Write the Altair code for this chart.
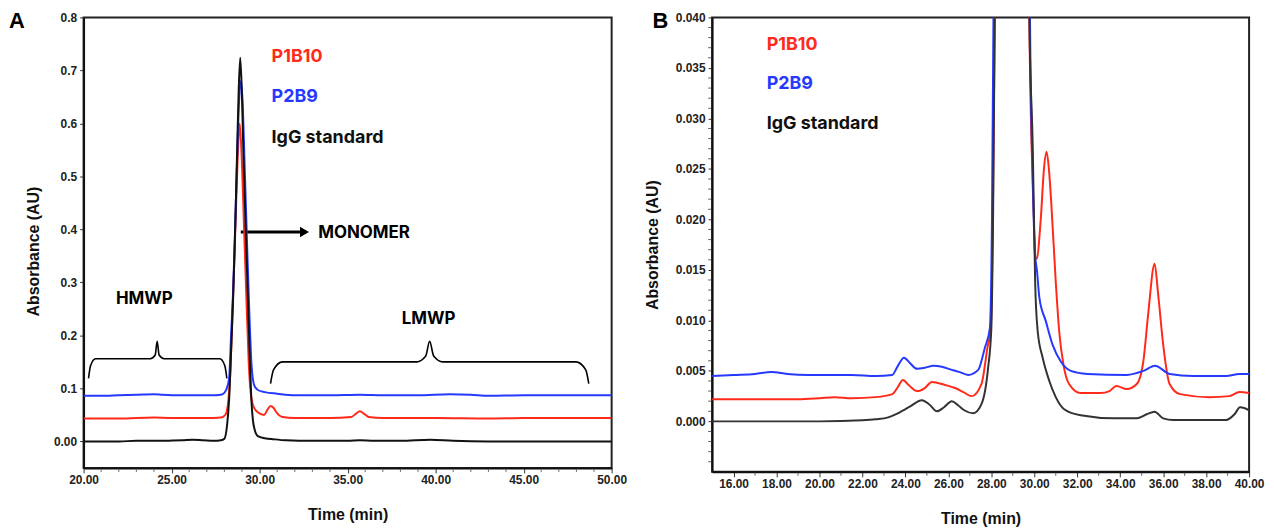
import altair as alt
import pandas as pd

# ---------------- Panel A data (time in min, absorbance in AU) ----------------
A_IGG_T = [20, 21, 22, 23, 24, 25, 25.6, 26.2, 26.8, 27.4, 27.8, 28.0, 28.15, 28.27, 28.38, 28.49, 28.58,
           28.72, 28.81, 28.9, 28.99, 29.08, 29.25, 29.34, 29.44, 29.53, 29.62, 29.72, 29.9, 30.3, 30.8,
           31.5, 33, 35, 35.7, 36.5, 38, 39.7, 41, 43, 45, 47, 50]
A_IGG_Y = [0.0, 0.0, 0.0, 0.001, 0.001, 0.0015, 0.002, 0.003, 0.002, 0.001, 0.002, 0.005, 0.03, 0.08, 0.17,
           0.265, 0.36, 0.544, 0.66, 0.724, 0.66, 0.544, 0.36, 0.265, 0.16, 0.08, 0.04, 0.022, 0.01, 0.006,
           0.004, 0.002, 0.001, 0.001, 0.002, 0.001, 0.001, 0.003, 0.001, 0.0, 0.0, 0.0, 0.0]

A_P2B9_T = [20, 21, 22, 23, 24, 24.5, 25.5, 26.5, 27.5, 27.9, 28.1, 28.27, 28.38, 28.49, 28.58, 28.72, 28.83,
            28.94, 29.05, 29.15, 29.3, 29.42, 29.55, 29.7, 29.9, 30.3, 31, 32, 34, 35.7, 37, 39, 40.8, 42,
            43, 45, 47, 50]
A_P2B9_Y = [0.086, 0.086, 0.087, 0.088, 0.089, 0.088, 0.087, 0.087, 0.087, 0.089, 0.097, 0.12, 0.2, 0.28,
            0.37, 0.53, 0.64, 0.68, 0.63, 0.52, 0.36, 0.24, 0.14, 0.105, 0.097, 0.093, 0.09, 0.087, 0.087,
            0.088, 0.087, 0.087, 0.089, 0.088, 0.086, 0.087, 0.087, 0.087]

A_P1B10_T = [20, 22, 24, 25, 26, 27, 27.8, 28.05, 28.2, 28.35, 28.5, 28.62, 28.75, 28.87, 28.99, 29.12,
             29.25, 29.38, 29.5, 29.65, 29.9, 30.25, 30.45, 30.62, 30.8, 30.95, 31.3, 32, 34, 35.2, 35.5,
             35.7, 35.9, 36.2, 37, 40, 43, 45, 50]
A_P1B10_Y = [0.043, 0.043, 0.045, 0.044, 0.044, 0.044, 0.045, 0.05, 0.07, 0.14, 0.28, 0.4, 0.53, 0.6, 0.53,
             0.4, 0.27, 0.15, 0.09, 0.066, 0.055, 0.05, 0.06, 0.067, 0.063, 0.055, 0.046, 0.044, 0.044,
             0.046, 0.053, 0.057, 0.053, 0.046, 0.044, 0.044, 0.043, 0.044, 0.044]

# ---------------- Panel B data (zoomed view) ----------------
B_IGG_T = [15, 16, 18, 20, 22, 22.62, 23.2, 23.54, 24.16, 24.77, 25.1, 25.47, 25.8, 26.16, 26.45, 26.74,
           27.16, 27.54, 27.85, 28.0, 28.08, 28.16, 28.5, 28.9, 29.3, 29.77, 29.93, 30.04, 30.16, 30.39,
           30.7, 31.0, 31.39, 32.16, 33.7, 34.77, 35.23, 35.6, 36.0, 36.47, 38.93, 39.32, 39.58, 39.8, 40]
B_IGG_Y = [0.0, 0.0, 0.0, 0.0, 0.0001, 0.0002, 0.0004, 0.0007, 0.0014, 0.0021, 0.0017, 0.001, 0.0014, 0.002,
           0.0016, 0.0011, 0.0008, 0.0017, 0.0053, 0.0092, 0.02, 0.04, 0.3, 0.72, 0.3, 0.04, 0.027, 0.0138,
           0.0089, 0.0063, 0.004, 0.0024, 0.0012, 0.0006, 0.0003, 0.0003, 0.0007, 0.00095, 0.0003, 0.00013,
           0.00013, 0.0007, 0.0014, 0.0013, 0.0011]

B_P2B9_T = [15, 16, 17, 17.75, 18.5, 19.5, 20.5, 21.5, 22.62, 23.39, 23.65, 23.93, 24.2, 24.54, 24.9,
            25.31, 25.7, 26.16, 26.5, 26.92, 27.39, 27.7, 27.93, 28.03, 28.1, 28.5, 28.95, 29.4, 29.8,
            29.93, 30.02, 30.13, 30.24, 30.54, 30.85, 31.24, 31.7, 32.47, 34.31, 35.08, 35.62, 36.3, 37.39,
            38.93, 39.55, 40]
B_P2B9_Y = [0.0045, 0.0046, 0.0047, 0.0049, 0.0047, 0.0046, 0.0046, 0.0046, 0.0045, 0.0046, 0.0055, 0.0063,
            0.0058, 0.0052, 0.0053, 0.0055, 0.0054, 0.0051, 0.0049, 0.0046, 0.0051, 0.0073, 0.0092, 0.02,
            0.04, 0.3, 0.68, 0.3, 0.04, 0.024, 0.017, 0.0148, 0.0122, 0.0099, 0.0076, 0.0059, 0.005, 0.0047,
            0.0046, 0.005, 0.0055, 0.0047, 0.0045, 0.0045, 0.0047, 0.0047]

B_P1B10_T = [15, 17, 18, 19, 20, 20.7, 21.5, 22.62, 23.39, 23.65, 23.88, 24.15, 24.54, 24.9, 25.23, 25.85,
             26.31, 26.7, 27.08, 27.54, 27.82, 27.97, 28.07, 28.16, 28.5, 28.88, 29.3, 29.77, 29.92, 30.11,
             30.3, 30.45, 30.57, 30.68, 30.78, 31.0, 31.16, 31.36, 31.62, 32.16, 33.08, 33.5, 33.82, 34.31,
             34.77, 35.08, 35.31, 35.6, 35.77, 36.0, 36.3, 36.78, 38.16, 39.08, 39.55, 40]
B_P1B10_Y = [0.0022, 0.0022, 0.0022, 0.0022, 0.0023, 0.0024, 0.0023, 0.0024, 0.0027, 0.0034, 0.0041, 0.0036,
             0.003, 0.0033, 0.0039, 0.0036, 0.0033, 0.0029, 0.0025, 0.0037, 0.0073, 0.0092, 0.02, 0.04, 0.28,
             0.6, 0.28, 0.04, 0.024, 0.0161, 0.02, 0.025, 0.0267, 0.025, 0.022, 0.0138, 0.0089, 0.0056,
             0.0037, 0.0028, 0.0028, 0.003, 0.0035, 0.0032, 0.0037, 0.006, 0.0108, 0.0156, 0.0125, 0.0076,
             0.0037, 0.0027, 0.0024, 0.0025, 0.0029, 0.0028]

# ---------------- Axis ticks ----------------
A_X_TICKS = [20, 25, 30, 35, 40, 45, 50]
A_X_MINOR = [21, 22, 23, 24, 26, 27, 28, 29, 31, 32, 33, 34, 36, 37, 38, 39, 41, 42, 43, 44, 46, 47, 48, 49]
A_Y_TICKS = [0, 0.1, 0.2, 0.3, 0.4, 0.5, 0.6, 0.7, 0.8]
B_X_TICKS = [16, 18, 20, 22, 24, 26, 28, 30, 32, 34, 36, 38, 40]
B_X_MINOR = [17, 19, 21, 23, 25, 27, 29, 31, 33, 35, 37, 39]
B_Y_TICKS = [0.0, 0.005, 0.010, 0.015, 0.020, 0.025, 0.030, 0.035, 0.040]
B_Y_MINOR = [-0.004, -0.003, -0.002, -0.001, 0.001, 0.002, 0.003, 0.004, 0.006, 0.007, 0.008, 0.009,
             0.011, 0.012, 0.013, 0.014, 0.016, 0.017, 0.018, 0.019, 0.021, 0.022, 0.023, 0.024,
             0.026, 0.027, 0.028, 0.029, 0.031, 0.032, 0.033, 0.034, 0.036, 0.037, 0.038, 0.039]

# ---------------- Annotations ----------------
SERIES = ["P1B10", "P2B9", "IgG standard"]
SERIES_COLORS = ["#ff2a1a", "#2639ff", "#111111"]
A_LABEL_X = [30.68, 30.68, 30.68]
A_LABEL_Y = [0.725, 0.649, 0.573]
B_LABEL_X = [17.54, 17.54, 17.54]
B_LABEL_Y = [0.0373, 0.0334, 0.0294]

MONO_TEXT = ["MONOMER"]
MONO_X = [33.33]
MONO_Y = [0.393]
ARROW_X = [28.93, 32.35]
ARROW_Y = [0.395, 0.395]
ARROW_HEAD_X = [32.55]
ARROW_HEAD_Y = [0.395]

REGION_TEXT = ["HMWP", "LMWP"]
REGION_X = [23.45, 39.6]
REGION_Y = [0.269, 0.230]

HMWP_BRACE_X = [20.28, 20.40, 20.68, 23.79, 24.07, 24.18, 24.29, 24.58, 27.74, 28.02, 28.14]
HMWP_BRACE_Y = [0.119, 0.143, 0.156, 0.156, 0.163, 0.189, 0.163, 0.156, 0.156, 0.143, 0.119]
LMWP_BRACE_X = [30.62, 30.79, 31.30, 38.93, 39.44, 39.66, 39.89, 40.40, 47.97, 48.53, 48.70]
LMWP_BRACE_Y = [0.109, 0.135, 0.150, 0.150, 0.161, 0.189, 0.161, 0.150, 0.150, 0.135, 0.109]

PANEL_A = ["A"]
PANEL_B = ["B"]

AXIS_FONT = "Liberation Sans"
NOTE_FONT = "Inter"

A_W, A_H = 531, 453
B_W, B_H = 540, 457


def enc(xs, ys):
    # every layer shares field names so the axes merge cleanly (axis defined on the first layer)
    return dict(x=alt.X("time:Q", scale=xs), y=alt.Y("abs:Q", scale=ys))


def line(t, y, color, xs, ys, width=2.0):
    df = pd.DataFrame({"time": t, "abs": y})
    return alt.Chart(df).mark_line(color=color, strokeWidth=width, interpolate="monotone",
                                   clip=True).encode(**enc(xs, ys))


def build_panel(xs, ys, xaxis, yaxis, data, labels_x, labels_y, W, H, letter, letter_x,
                x_minor, y_minor=None, extra=None):
    base_df = pd.DataFrame({"time": [xs.domain[0]], "abs": [ys.domain[0]]})
    axes = alt.Chart(base_df).mark_point(opacity=0).encode(
        x=alt.X("time:Q", scale=xs, axis=xaxis),
        y=alt.Y("abs:Q", scale=ys, axis=yaxis),
    )
    layers = [axes]
    layers.append(alt.Chart(pd.DataFrame({"time": x_minor})).mark_rule(color="#666", strokeWidth=1).encode(
        x=alt.X("time:Q", scale=xs), y=alt.value(H + 1), y2=alt.value(H + 4)))
    if y_minor is not None:
        layers.append(alt.Chart(pd.DataFrame({"abs": y_minor})).mark_rule(color="#666", strokeWidth=1).encode(
            y=alt.Y("abs:Q", scale=ys), x=alt.value(-4), x2=alt.value(-1)))
    if extra:
        layers.extend(extra)
    for (t, y, c) in data:
        layers.append(line(t, y, c, xs, ys))
    lab_df = pd.DataFrame({"label": SERIES, "col": SERIES_COLORS, "time": labels_x, "abs": labels_y})
    layers.append(alt.Chart(lab_df).mark_text(font=NOTE_FONT, fontSize=18, fontWeight="bold", align="left",
                                              baseline="middle").encode(
        text="label:N", color=alt.Color("col:N", scale=None), **enc(xs, ys)))
    layers.append(alt.Chart(pd.DataFrame({"label": letter})).mark_text(
        font=AXIS_FONT, fontSize=22, fontWeight="bold", align="left", baseline="middle", color="#000").encode(
        x=alt.value(letter_x), y=alt.value(4), text="label:N"))
    return alt.layer(*layers).properties(width=W, height=H)


common_axis = dict(labelFont=AXIS_FONT, labelFontSize=12, labelFontWeight="bold", labelColor="#222",
                   titleFont=AXIS_FONT, titleFontSize=16, titleFontWeight="bold", titleColor="#111",
                   domainColor="#111", domainWidth=2, tickColor="#333", grid=False, labelFlush=False,
                   labelOverlap=False)

# ---- Panel A ----
xsA = alt.Scale(domain=[20, 50], nice=False, zero=False)
ysA = alt.Scale(domain=[-0.05, 0.8], nice=False, zero=False)
xaxisA = alt.Axis(values=A_X_TICKS, format=".2f", title="Time (min)", tickSize=5, labelPadding=2,
                  labelAlign="center", titlePadding=21, **common_axis)
yaxisA = alt.Axis(values=A_Y_TICKS, labelExpr="datum.value == 0 ? '0.00' : format(datum.value, '.1f')",
                  title="Absorbance (AU)", tickSize=4, labelPadding=3, titlePadding=12, titleY=235,
                  **common_axis)

arrow = alt.Chart(pd.DataFrame({"time": ARROW_X, "abs": ARROW_Y})).mark_line(
    color="#000", strokeWidth=3).encode(**enc(xsA, ysA))
head = alt.Chart(pd.DataFrame({"time": ARROW_HEAD_X, "abs": ARROW_HEAD_Y})).mark_point(
    shape="triangle-right", size=110, filled=True, color="#000", opacity=1).encode(**enc(xsA, ysA))
mono = alt.Chart(pd.DataFrame({"label": MONO_TEXT, "time": MONO_X, "abs": MONO_Y})).mark_text(
    font=NOTE_FONT, fontSize=17, fontWeight="bold", align="left", baseline="middle", color="#000").encode(
    text="label:N", **enc(xsA, ysA))
regions = alt.Chart(pd.DataFrame({"label": REGION_TEXT, "time": REGION_X, "abs": REGION_Y})).mark_text(
    font=NOTE_FONT, fontSize=17, fontWeight="bold", align="center", baseline="middle", color="#000").encode(
    text="label:N", **enc(xsA, ysA))
brace_h = alt.Chart(pd.DataFrame({"time": HMWP_BRACE_X, "abs": HMWP_BRACE_Y})).mark_line(
    color="#000", strokeWidth=1.6, interpolate="monotone").encode(**enc(xsA, ysA))
brace_l = alt.Chart(pd.DataFrame({"time": LMWP_BRACE_X, "abs": LMWP_BRACE_Y})).mark_line(
    color="#000", strokeWidth=1.6, interpolate="monotone").encode(**enc(xsA, ysA))

panelA = build_panel(
    xsA, ysA, xaxisA, yaxisA,
    [(A_P1B10_T, A_P1B10_Y, SERIES_COLORS[0]), (A_P2B9_T, A_P2B9_Y, SERIES_COLORS[1]),
     (A_IGG_T, A_IGG_Y, SERIES_COLORS[2])],
    A_LABEL_X, A_LABEL_Y, A_W, A_H, PANEL_A, -75, A_X_MINOR,
    extra=[brace_h, brace_l, regions, arrow, head, mono])

# ---- Panel B ----
xsB = alt.Scale(domain=[15, 40], nice=False, zero=False)
ysB = alt.Scale(domain=[-0.005, 0.040], nice=False, zero=False)
xaxisB = alt.Axis(values=B_X_TICKS, format=".2f", title="Time (min)", tickSize=5, labelPadding=2,
                  labelAlign="center", titlePadding=21, **common_axis)
yaxisB = alt.Axis(values=B_Y_TICKS, format=".3f", title="Absorbance (AU)", tickSize=4, labelPadding=3,
                  titlePadding=15, **common_axis)

panelB = build_panel(
    xsB, ysB, xaxisB, yaxisB,
    [(B_P1B10_T, B_P1B10_Y, SERIES_COLORS[0]), (B_P2B9_T, B_P2B9_Y, SERIES_COLORS[1]),
     (B_IGG_T, B_IGG_Y, "#333333")],
    B_LABEL_X, B_LABEL_Y, B_W, B_H, PANEL_B, -60, B_X_MINOR, y_minor=B_Y_MINOR)

chart = alt.hconcat(panelA, panelB, spacing=101, bounds="flush").properties(
    padding=0, background="white"
).configure_view(stroke="#222", strokeWidth=2)

chart.save("out.html", embed_options={"renderer": "svg", "actions": False})
